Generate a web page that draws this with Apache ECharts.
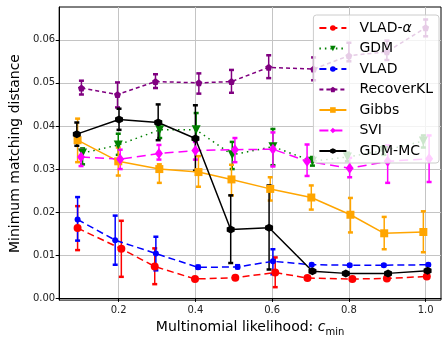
<!DOCTYPE html>
<html>
<head>
<meta charset="utf-8">
<script src="https://cdn.jsdelivr.net/npm/echarts@6/dist/echarts.min.js"></script>
<style>
  html, body { margin: 0; padding: 0; background: #fff; }
  #chart { width: 443px; height: 342px; }
</style>
</head>
<body>
<div id="chart"></div>
<script>
// values (x is jittered a little per method)
const xTicks = [0.2, 0.4, 0.6, 0.8, 1.0];
const yTicks = [0, 0.01, 0.02, 0.03, 0.04, 0.05, 0.06];

const vladAX  = [0.093, 0.207, 0.294, 0.399, 0.504, 0.608, 0.692, 0.809, 0.899, 1.003];
const vladAY  = [0.0163, 0.0115, 0.0074, 0.0045, 0.0048, 0.0060, 0.0047, 0.0045, 0.0046, 0.0051];
const vladALo = [0.0112, 0.0050, 0.0033, 0.0043, 0.0046, 0.0026, 0.0045, 0.0043, 0.0044, 0.0049];
const vladAHi = [0.0214, 0.0180, 0.0116, 0.0047, 0.0050, 0.0095, 0.0049, 0.0047, 0.0048, 0.0053];

const gdmX  = [0.106, 0.199, 0.307, 0.402, 0.496, 0.602, 0.705, 0.796, 0.891, 0.994];
const gdmY  = [0.0337, 0.0356, 0.0391, 0.0391, 0.0333, 0.0352, 0.0318, 0.0328, 0.0343, 0.0365];
const gdmLo = [0.0311, 0.0333, 0.0372, 0.0370, 0.0300, 0.0309, 0.0308, 0.0318, 0.0333, 0.0350];
const gdmHi = [0.0348, 0.0382, 0.0410, 0.0430, 0.0363, 0.0393, 0.0328, 0.0338, 0.0353, 0.0378];

const vladX  = [0.093, 0.191, 0.297, 0.407, 0.510, 0.602, 0.703, 0.802, 0.891, 1.007];
const vladY  = [0.0183, 0.0135, 0.0104, 0.0072, 0.0073, 0.0086, 0.0078, 0.0077, 0.0077, 0.0078];
const vladLo = [0.0134, 0.0078, 0.0065, 0.0069, 0.0070, 0.0056, 0.0076, 0.0075, 0.0075, 0.0076];
const vladHi = [0.0235, 0.0192, 0.0143, 0.0076, 0.0077, 0.0114, 0.0080, 0.0079, 0.0079, 0.0080];

const rklX  = [0.103, 0.197, 0.296, 0.409, 0.494, 0.591, 0.708, 0.800, 0.899, 1.000];
const rklY  = [0.0488, 0.0473, 0.0503, 0.0500, 0.0503, 0.0536, 0.0532, 0.0563, 0.0572, 0.0628];
const rklLo = [0.0473, 0.0443, 0.0488, 0.0475, 0.0477, 0.0511, 0.0506, 0.0550, 0.0553, 0.0608];
const rklHi = [0.0505, 0.0501, 0.0520, 0.0522, 0.0530, 0.0564, 0.0559, 0.0593, 0.0598, 0.0647];

const gibbsX  = [0.093, 0.199, 0.306, 0.408, 0.494, 0.595, 0.702, 0.804, 0.892, 0.994];
const gibbsY  = [0.0367, 0.0318, 0.0300, 0.0293, 0.0276, 0.0254, 0.0234, 0.0194, 0.0151, 0.0154];
const gibbsLo = [0.0316, 0.0285, 0.0268, 0.0259, 0.0239, 0.0227, 0.0206, 0.0153, 0.0114, 0.0107];
const gibbsHi = [0.0417, 0.0350, 0.0311, 0.0330, 0.0310, 0.0281, 0.0262, 0.0233, 0.0189, 0.0202];

const sviX  = [0.102, 0.204, 0.305, 0.400, 0.503, 0.602, 0.691, 0.802, 0.901, 1.009];
const sviY  = [0.0328, 0.0323, 0.0336, 0.0343, 0.0345, 0.0346, 0.0318, 0.0302, 0.0318, 0.0324];
const sviLo = [0.0307, 0.0300, 0.0322, 0.0322, 0.0316, 0.0306, 0.0284, 0.0281, 0.0268, 0.0270];
const sviHi = [0.0345, 0.0345, 0.0356, 0.0363, 0.0372, 0.0385, 0.0357, 0.0326, 0.0355, 0.0378];

const mcX  = [0.091, 0.201, 0.303, 0.400, 0.492, 0.592, 0.705, 0.792, 0.902, 1.005];
const mcY  = [0.0381, 0.0415, 0.0408, 0.0371, 0.0160, 0.0164, 0.0063, 0.0058, 0.0058, 0.0064];
const mcLo = [0.0354, 0.0391, 0.0367, 0.0296, 0.0082, 0.0067, 0.0061, 0.0056, 0.0056, 0.0062];
const mcHi = [0.0408, 0.0440, 0.0450, 0.0448, 0.0239, 0.0262, 0.0065, 0.0060, 0.0060, 0.0066];

const FONT = 'DejaVu Sans';
const HEX = 'path://M0,-1 L0.866,-0.5 L0.866,0.5 L0,1 L-0.866,0.5 L-0.866,-0.5 Z';
const PENT = 'path://M0,-1 L0.951,-0.309 L0.588,0.809 L-0.588,0.809 L-0.951,-0.309 Z';

const methods = [
  { name: 'VLAD-α', x: vladAX, y: vladAY, lo: vladALo, hi: vladAHi, color: '#ff0000',
    dash: [7, 4], symbol: 'circle', size: 8 },
  { name: 'GDM', x: gdmX, y: gdmY, lo: gdmLo, hi: gdmHi, color: '#008000',
    dash: [1.5, 4], symbol: 'triangle', rotate: 180, size: 9 },
  { name: 'VLAD', x: vladX, y: vladY, lo: vladLo, hi: vladHi, color: '#0000ff',
    dash: [7, 4], symbol: 'circle', size: 6 },
  { name: 'RecoverKL', x: rklX, y: rklY, lo: rklLo, hi: rklHi, color: '#800080',
    dash: [4, 3], symbol: PENT, size: 7 },
  { name: 'Gibbs', x: gibbsX, y: gibbsY, lo: gibbsLo, hi: gibbsHi, color: '#ffa500',
    dash: 'solid', symbol: 'rect', size: 8 },
  { name: 'SVI', x: sviX, y: sviY, lo: sviLo, hi: sviHi, color: '#ff00ff',
    dash: [9, 5], symbol: 'diamond', size: [8, 11] },
  { name: 'GDM-MC', x: mcX, y: mcY, lo: mcLo, hi: mcHi, color: '#000000',
    dash: 'solid', symbol: HEX, size: 8 }
];

const lineSeries = methods.map(m => ({
  name: m.name,
  type: 'line',
  data: m.x.map((x, i) => [x, m.y[i]]),
  symbol: m.symbol,
  symbolSize: m.size,
  symbolRotate: m.rotate || 0,
  showAllSymbol: true,
  z: 3,
  itemStyle: { color: m.color },
  lineStyle: { color: m.color, width: 1.5, type: m.dash }
}));

// error bars with caps
const barSeries = methods.map(m => ({
  name: m.name,
  type: 'custom',
  z: 2,
  data: m.x.map((x, i) => [x, m.lo[i], m.hi[i]]),
  encode: { x: 0, y: [1, 2] },
  renderItem: (params, api) => {
    const top = api.coord([api.value(0), api.value(2)]);
    const bot = api.coord([api.value(0), api.value(1)]);
    const w = 2.5;
    const st = { stroke: m.color, lineWidth: 1.5 };
    return {
      type: 'group',
      children: [
        { type: 'line', shape: { x1: top[0], y1: top[1], x2: bot[0], y2: bot[1] }, style: st },
        { type: 'line', shape: { x1: top[0] - w, y1: top[1], x2: top[0] + w, y2: top[1] }, style: { stroke: m.color, lineWidth: 2.5 } },
        { type: 'line', shape: { x1: bot[0] - w, y1: bot[1], x2: bot[0] + w, y2: bot[1] }, style: { stroke: m.color, lineWidth: 2.5 } }
      ]
    };
  }
}));

const chart = echarts.init(document.getElementById('chart'));
chart.setOption({
  animation: false,
  textStyle: { fontFamily: FONT },
  grid: {
    left: 55, right: 2, top: 7, bottom: 31,
    show: true, borderColor: '#000', borderWidth: 1, backgroundColor: 'transparent'
  },
  legend: {
    data: methods.map(m => m.name),
    orient: 'vertical',
    right: 4,
    top: 15,
    itemWidth: 27,
    itemHeight: 7,
    itemGap: 6.5,
    padding: [6, 6, 5, 5],
    backgroundColor: 'rgba(255,255,255,0.8)',
    borderColor: '#cccccc',
    borderWidth: 1,
    borderRadius: 3,
    formatter: name => name === 'VLAD-α' ? '{t|VLAD-}{a|α}' : name,
    textStyle: {
      fontFamily: FONT, fontSize: 14, color: '#000', lineHeight: 14, padding: [0, 0, 0, 8],
      rich: {
        t: { fontFamily: FONT, fontSize: 14, color: '#000' },
        a: { fontFamily: FONT, fontSize: 14, color: '#000', fontStyle: 'italic' }
      }
    }
  },
  xAxis: {
    type: 'value',
    min: 0.045,
    max: 1.04,
    name: 'Multinomial likelihood: {c|c}{m|min}',
    nameLocation: 'middle',
    nameGap: 15,
    nameTextStyle: {
      fontFamily: FONT, fontSize: 14, color: '#000',
      rich: {
        c: { fontFamily: FONT, fontSize: 14, fontStyle: 'italic', color: '#000' },
        m: { fontFamily: FONT, fontSize: 10, color: '#000', verticalAlign: 'bottom', lineHeight: 20 }
      }
    },
    axisLine: { show: true, lineStyle: { color: '#000', width: 1 } },
    axisTick: { show: true, length: 3.5, customValues: xTicks, lineStyle: { color: '#000' } },
    axisLabel: {
      customValues: xTicks, margin: 5, fontSize: 10, fontFamily: FONT, color: '#222',
      formatter: v => v.toFixed(1)
    },
    splitLine: { show: true, lineStyle: { color: '#c4c4c4', width: 1 } }
  },
  yAxis: {
    type: 'value',
    min: -0.0004,
    max: 0.0676,
    name: 'Minimum matching distance',
    nameLocation: 'middle',
    nameGap: 33,
    nameTextStyle: { fontFamily: FONT, fontSize: 14, color: '#000' },
    axisLine: { show: true, lineStyle: { color: '#000', width: 1 } },
    axisTick: { show: true, length: 3.5, customValues: yTicks, lineStyle: { color: '#000' } },
    axisLabel: {
      customValues: yTicks, margin: 4, fontSize: 10, fontFamily: FONT, color: '#222',
      formatter: v => v.toFixed(2)
    },
    splitLine: { show: true, lineStyle: { color: '#c4c4c4', width: 1 } }
  },
  series: lineSeries.concat(barSeries)
});
</script>
</body>
</html>
